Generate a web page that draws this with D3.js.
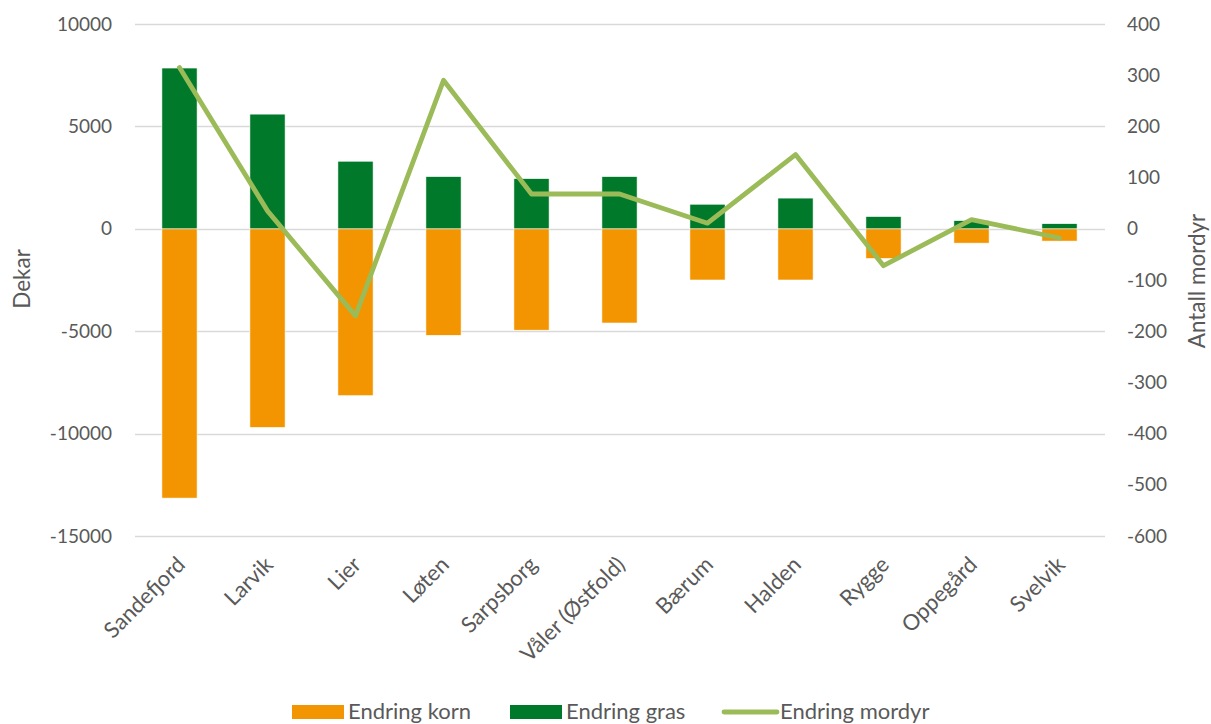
<!DOCTYPE html>
<html>
<head>
<meta charset="utf-8">
<script src="https://cdn.jsdelivr.net/npm/d3@7"></script>
<style>
  html, body { margin: 0; padding: 0; background: #fff; }
  svg { display: block; }
  text { font-family: Lato, "Open Sans", "Noto Sans", sans-serif; fill: #595959; }
</style>
</head>
<body>
<svg id="chart" width="1211" height="724"></svg>
<script>
// Kommuner
const categories = ["Sandefjord", "Larvik", "Lier", "Løten", "Sarpsborg", "Våler (Østfold)",
                    "Bærum", "Halden", "Rygge", "Oppegård", "Svelvik"];
// Endring i dekar
const kornValues = [-13150, -9700, -8150, -5200, -4950, -4600, -2500, -2500, -1450, -700, -600];
const grasValues = [7850, 5600, 3300, 2550, 2450, 2550, 1200, 1500, 600, 400, 250];
// Endring i antall mordyr
const mordyrValues = [315, 35, -170, 290, 68, 68, 11, 145, -72, 18, -18];

const leftTicks = [-15000, -10000, -5000, 0, 5000, 10000];
const rightTicks = [-600, -500, -400, -300, -200, -100, 0, 100, 200, 300, 400];

const seriesNames = ["Endring korn", "Endring gras", "Endring mordyr"];
const colors = { korn: "#F29500", gras: "#007A2A", mordyr: "#9BBB59" };

const svg = d3.select("#chart");
const plot = { left: 135.5, right: 1103.5, top: 24, bottom: 536 };

const x = d3.scaleBand().domain(categories)
  .range([plot.left, plot.right]).paddingInner(0.6).paddingOuter(0.3);
const yL = d3.scaleLinear().domain([-15000, 10000]).range([plot.bottom, plot.top]);
const yR = d3.scaleLinear().domain([-600, 400]).range([plot.bottom, plot.top]);

// plain hyphen-minus for negative numbers
const fmt = d => String(d);

// Gridlines
svg.append("g").selectAll("line").data(leftTicks).join("line")
  .attr("x1", 135).attr("x2", 1105)
  .attr("y1", d => Math.round(yL(d)) + 0.5).attr("y2", d => Math.round(yL(d)) + 0.5)
  .attr("stroke", "#d9d9d9").attr("stroke-width", 1.3);

// Left axis
const leftAxis = d3.axisLeft(yL).tickValues(leftTicks).tickSize(0).tickPadding(0).tickFormat(fmt);
const gL = svg.append("g").attr("transform", "translate(112,0)").call(leftAxis);
gL.select(".domain").remove();
gL.selectAll("text").attr("font-size", 19).attr("fill", "#595959")
  .attr("font-family", "Lato, 'Open Sans', sans-serif");

// Right axis
const rightAxis = d3.axisRight(yR).tickValues(rightTicks).tickSize(0).tickPadding(0).tickFormat(fmt);
const gR = svg.append("g").attr("transform", "translate(1127,0)").call(rightAxis);
gR.select(".domain").remove();
gR.selectAll("text").attr("font-size", 19).attr("fill", "#595959")
  .attr("font-family", "Lato, 'Open Sans', sans-serif");

// Axis titles
svg.append("text").attr("transform", "translate(30,279) rotate(-90)")
  .attr("text-anchor", "middle").attr("font-size", 22.5).text("Dekar");
svg.append("text").attr("transform", "translate(1205,281) rotate(-90)")
  .attr("text-anchor", "middle").attr("font-size", 22.5).text("Antall mordyr");

// Bars
const bars = svg.append("g");
bars.selectAll("rect.korn").data(categories).join("rect").attr("class", "korn")
  .attr("x", d => x(d)).attr("width", x.bandwidth())
  .attr("y", (d, i) => yL(Math.max(0, kornValues[i])))
  .attr("height", (d, i) => Math.abs(yL(kornValues[i]) - yL(0)))
  .attr("fill", colors.korn).attr("stroke", "#fff").attr("stroke-width", 0.6);
bars.selectAll("rect.gras").data(categories).join("rect").attr("class", "gras")
  .attr("x", d => x(d)).attr("width", x.bandwidth())
  .attr("y", (d, i) => yL(Math.max(0, grasValues[i])))
  .attr("height", (d, i) => Math.abs(yL(grasValues[i]) - yL(0)))
  .attr("fill", colors.gras).attr("stroke", "#fff").attr("stroke-width", 0.6);

// Line
const line = d3.line()
  .x((d, i) => x(categories[i]) + x.bandwidth() / 2)
  .y(d => yR(d));
svg.append("path").datum(mordyrValues)
  .attr("d", line).attr("fill", "none")
  .attr("stroke", colors.mordyr).attr("stroke-width", 4.8)
  .attr("stroke-linejoin", "round").attr("stroke-linecap", "round");

// Category labels
svg.append("g").selectAll("text").data(categories).join("text")
  .attr("transform", d => `translate(${x(d) + x.bandwidth() / 2 + 7},566) rotate(-45)`)
  .attr("text-anchor", "end").attr("font-size", 22).text(d => d);

// Legend
const legend = svg.append("g");
legend.append("rect").attr("x", 292).attr("y", 705).attr("width", 52).attr("height", 14)
  .attr("fill", colors.korn);
legend.append("text").attr("x", 348).attr("y", 719).attr("font-size", 22).text(seriesNames[0]);
legend.append("rect").attr("x", 510).attr("y", 705).attr("width", 52).attr("height", 14)
  .attr("fill", colors.gras);
legend.append("text").attr("x", 566).attr("y", 719).attr("font-size", 22).text(seriesNames[1]);
legend.append("line").attr("x1", 724).attr("x2", 777).attr("y1", 712).attr("y2", 712)
  .attr("stroke", colors.mordyr).attr("stroke-width", 4.8).attr("stroke-linecap", "round");
legend.append("text").attr("x", 780).attr("y", 719).attr("font-size", 22).text(seriesNames[2]);
</script>
</body>
</html>
